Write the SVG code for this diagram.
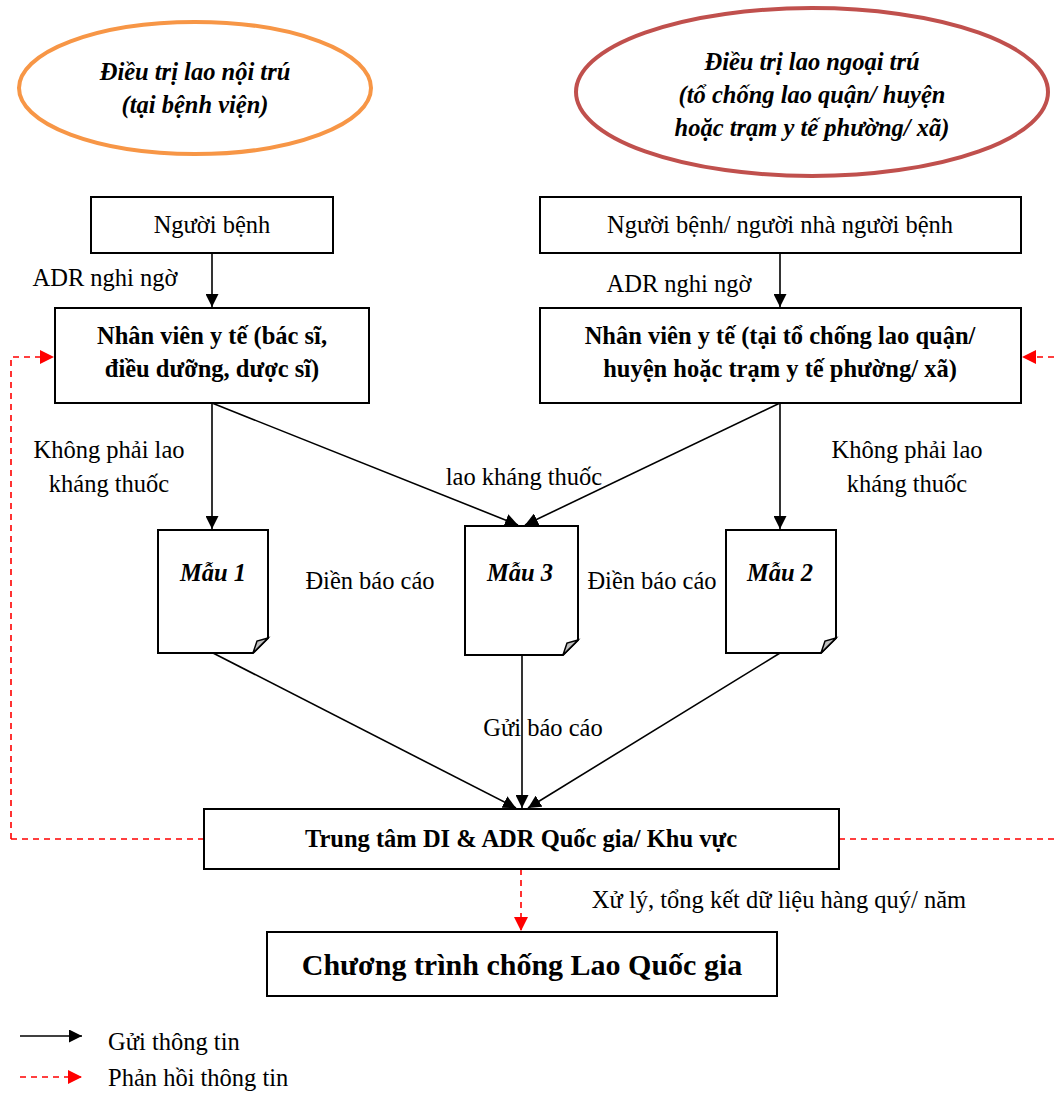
<svg xmlns="http://www.w3.org/2000/svg" width="1054" height="1093" viewBox="0 0 1054 1093">
<defs>
<marker id="ab" viewBox="0 0 10 10" refX="10" refY="5" markerWidth="13" markerHeight="13" markerUnits="userSpaceOnUse" orient="auto"><path d="M0,0 L10,5 L0,10 Z" fill="#000"/></marker>
<marker id="ar" viewBox="0 0 10 10" refX="10" refY="5" markerWidth="14" markerHeight="14" markerUnits="userSpaceOnUse" orient="auto"><path d="M0,0 L10,5 L0,10 Z" fill="#ff0000"/></marker>
<style>
text{font-family:"Liberation Serif","Times New Roman",serif;fill:#000}
.t{font-size:24.5px}
.c{text-anchor:middle}
.b{font-weight:bold}
.bi{font-weight:bold;font-style:italic}
.box{fill:#fff;stroke:#000;stroke-width:2}
.ln{fill:none;stroke:#000;stroke-width:1.6;marker-end:url(#ab)}
.rd{fill:none;stroke:#ff0000;stroke-width:1.6;stroke-dasharray:6 5}
.rda{fill:none;stroke:#ff0000;stroke-width:1.6;stroke-dasharray:6 5;marker-end:url(#ar)}
.doc{fill:#fff;stroke:#000;stroke-width:2}
.fold{fill:#c0c0c0;stroke:#000;stroke-width:1.5}
</style>
</defs>
<g id="connectors">
<path class="ln" d="M212,253 L212,307"/>
<path class="ln" d="M780,253 L780,307"/>
<path class="ln" d="M212,403 L212,529"/>
<path class="ln" d="M780,403 L780,529"/>
<path class="ln" d="M212,403 L518,525"/>
<path class="ln" d="M780,403 L525,525"/>
<path class="ln" d="M213,653 L516,808"/>
<path class="ln" d="M522,655 L522,808"/>
<path class="ln" d="M780,653 L528,808"/>
<path class="rda" d="M11,839 L11,357 L54,357"/>
<path class="rd" d="M11,839 L204,839"/>
<path class="rda" d="M1054,357 L1022,357"/>
<path class="rd" d="M839,839 L1054,839"/>
<path class="rda" d="M521,869 L521,931"/>
</g>
<g id="ellipse-noi-tru">
<ellipse cx="195" cy="88" rx="176" ry="66" fill="#fff" stroke="#F79646" stroke-width="4"/>
<text class="t bi c" x="195" y="80">Điều trị lao nội trú</text>
<text class="t bi c" x="195" y="113">(tại bệnh viện)</text>
</g>
<g id="ellipse-ngoai-tru">
<ellipse cx="812" cy="92" rx="236" ry="84" fill="#fff" stroke="#C0504D" stroke-width="4"/>
<text class="t bi c" x="812" y="70">Điều trị lao ngoại trú</text>
<text class="t bi c" x="812" y="103">(tổ chống lao quận/ huyện</text>
<text class="t bi c" x="812" y="136">hoặc trạm y tế phường/ xã)</text>
</g>
<g id="nguoi-benh-1">
<rect class="box" x="91" y="197" width="242" height="56"/>
<text class="t c" x="212" y="233">Người bệnh</text>
</g>
<g id="nguoi-benh-2">
<rect class="box" x="540" y="197" width="481" height="56"/>
<text class="t c" x="780" y="233">Người bệnh/ người nhà người bệnh</text>
</g>
<g id="nvyt-1">
<rect class="box" x="55" y="308" width="314" height="95"/>
<text class="t b c" x="212" y="344">Nhân viên y tế (bác sĩ,</text>
<text class="t b c" x="212" y="377">điều dưỡng, dược sĩ)</text>
</g>
<g id="nvyt-2">
<rect class="box" x="540" y="308" width="481" height="95"/>
<text class="t b c" x="780" y="344">Nhân viên y tế (tại tổ chống lao quận/</text>
<text class="t b c" x="780" y="377">huyện hoặc trạm y tế phường/ xã)</text>
</g>
<g id="mau-1">
<path class="doc" d="M158,530 L268,530 L268,638 L253,653 L158,653 Z"/>
<path class="fold" d="M253,653 L257,641 L268,638 Z"/>
<text class="t bi c" x="213" y="581">Mẫu 1</text>
</g>
<g id="mau-3">
<path class="doc" d="M465,526 L578,526 L578,640 L563,655 L465,655 Z"/>
<path class="fold" d="M563,655 L567,643 L578,640 Z"/>
<text class="t bi c" x="520" y="581">Mẫu 3</text>
</g>
<g id="mau-2">
<path class="doc" d="M726,530 L836,530 L836,638 L821,653 L726,653 Z"/>
<path class="fold" d="M821,653 L825,641 L836,638 Z"/>
<text class="t bi c" x="780" y="581">Mẫu 2</text>
</g>
<g id="trung-tam">
<rect class="box" x="204" y="809" width="635" height="60"/>
<text class="t b c" x="521" y="847">Trung tâm DI &amp; ADR Quốc gia/ Khu vực</text>
</g>
<g id="chuong-trinh">
<rect class="box" x="267" y="932" width="510" height="64"/>
<text class="b c" x="522" y="975" font-size="30">Chương trình chống Lao Quốc gia</text>
</g>
<g id="labels">
<text class="t c" x="105" y="286">ADR nghi ngờ</text>
<text class="t c" x="679" y="292">ADR nghi ngờ</text>
<text class="t c" x="109" y="458">Không phải lao</text>
<text class="t c" x="109" y="492">kháng thuốc</text>
<text class="t c" x="907" y="458">Không phải lao</text>
<text class="t c" x="907" y="492">kháng thuốc</text>
<text class="t c" x="524" y="485">lao kháng thuốc</text>
<text class="t c" x="370" y="589">Điền báo cáo</text>
<text class="t c" x="652" y="589">Điền báo cáo</text>
<text class="t c" x="543" y="736">Gửi báo cáo</text>
<text class="t c" x="779" y="908">Xử lý, tổng kết dữ liệu hàng quý/ năm</text>
</g>
<g id="legend">
<path class="ln" d="M20,1036 L82,1036"/>
<text class="t" x="108" y="1050">Gửi thông tin</text>
<path class="rda" d="M20,1077 L82,1077"/>
<text class="t" x="108" y="1086">Phản hồi thông tin</text>
</g>
</svg>
